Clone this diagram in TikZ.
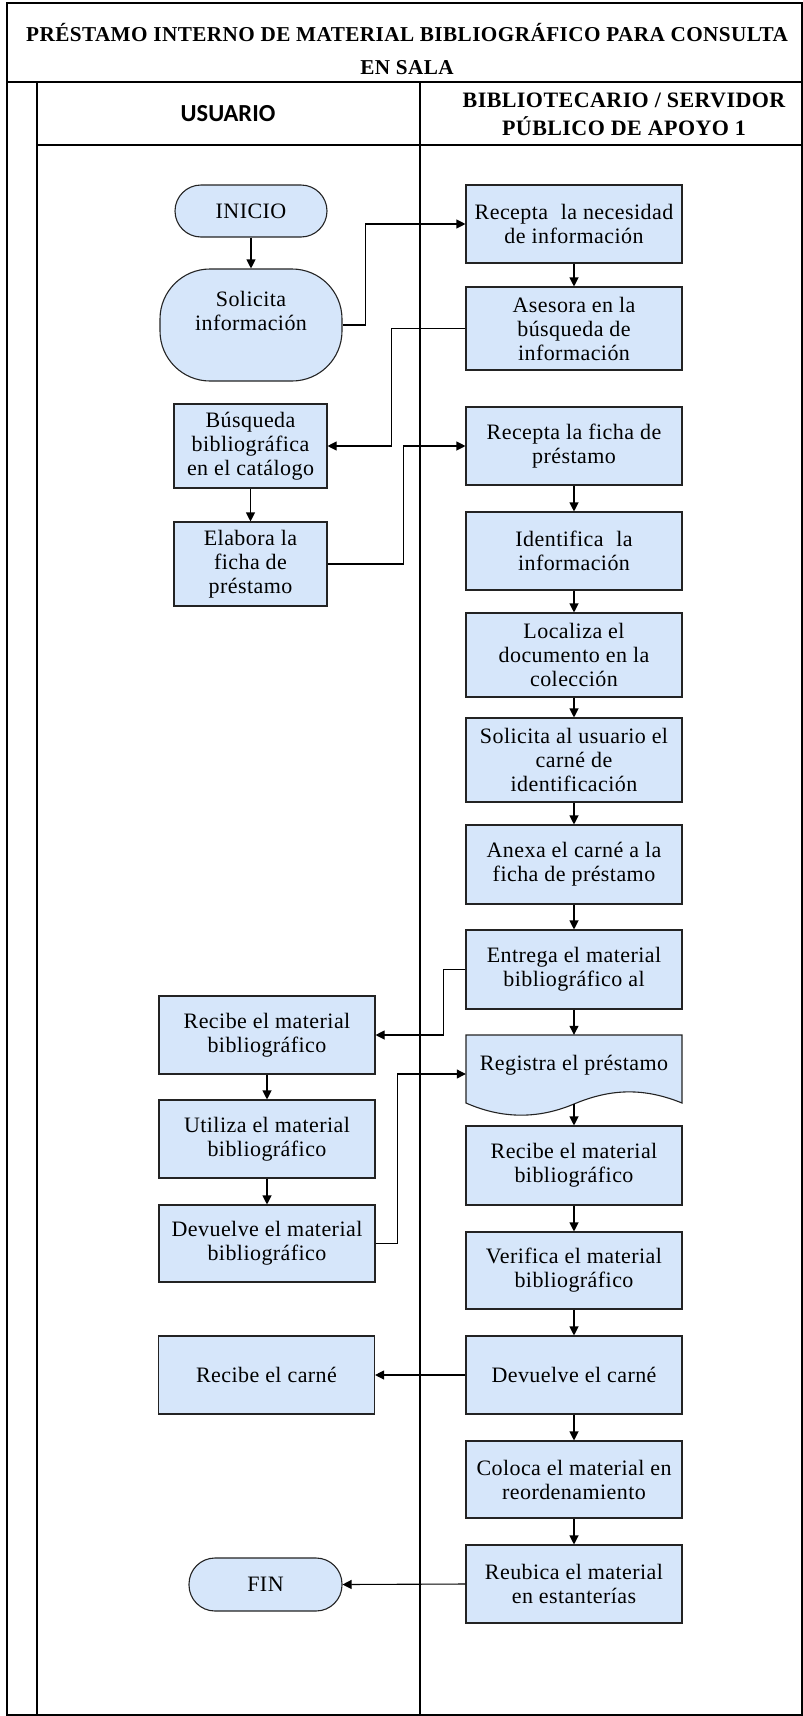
\documentclass[tikz,border=0pt]{standalone}
\usepackage{fontspec}
\setmainfont{Liberation Serif}[LetterSpace=2]
\newfontfamily\hdsans{Carlito}
\usetikzlibrary{arrows.meta,calc}
\definecolor{boxfill}{RGB}{214,230,250}
\definecolor{boxline}{RGB}{35,35,35}

\begin{document}
\begin{tikzpicture}[x=1pt,y=-1pt,
  frame/.style={line width=1.8pt},
  boxtext/.style={font=\fontsize{22}{24}\selectfont},
  proc/.style={draw=boxline,fill=boxfill,line width=1.1pt,minimum width=216pt,
    minimum height=78pt,inner sep=0pt,align=center,boxtext},
  narrow/.style={proc,minimum width=153pt,minimum height=84pt},
  term/.style={proc,rounded corners=26pt,minimum width=152pt,minimum height=52pt},
  arr/.style={line width=1.1pt,-{Triangle[length=9pt,width=9pt]}}]

\useasboundingbox (0,0) rectangle (803,1716);

% table frame and swimlanes
\draw[frame] (7,3) rectangle (802,1715);
\draw[frame] (7,82) -- (802,82);
\draw[frame] (37,82) -- (37,1715);
\draw[frame] (37,145) -- (802,145);
\draw[frame] (420,82) -- (420,1715);

\node[font=\bfseries\fontsize{21.2}{33}\selectfont,align=center] (title) at (407,49)
  {PRÉSTAMO INTERNO DE MATERIAL BIBLIOGRÁFICO PARA CONSULTA\\EN SALA};
\node[font=\hdsans\bfseries\fontsize{24.5}{28}\selectfont] (laneA) at (228,114) {USUARIO};
\node[font=\bfseries\fontsize{22}{28}\selectfont,align=center] (laneB) at (624,114)
  {BIBLIOTECARIO / SERVIDOR\\PÚBLICO DE APOYO 1};

% user lane
\node[term] (inicio) at (251,211) {INICIO};
\node[proc,rounded corners=50pt,minimum width=182pt,minimum height=112pt] (solicita) at (251,325) {};
\node[boxtext,align=center] (solicitaText) at (251,311) {Solicita\\información};
\node[narrow] (busq) at (250.5,446) {Búsqueda\\bibliográfica\\en el catálogo};
\node[narrow] (elabora) at (250.5,564) {Elabora la\\ficha de\\préstamo};
\node[proc] (urecibe) at (267,1035) {Recibe el material\\bibliográfico};
\node[proc] (uutiliza) at (267,1139) {Utiliza el material\\bibliográfico};
\node[proc,minimum height=77pt] (udevuelve) at (267,1243.5) {Devuelve el material\\bibliográfico};
\node[proc] (ucarne) at (266.5,1375) {Recibe el carné};
\node[term,minimum width=153pt,minimum height=53pt] (fin) at (265.5,1584.5) {FIN};

% librarian lane
\node[proc] (r1) at (574,224) {Recepta\hspace{0.3em} la necesidad\\de información};
\node[proc,minimum height=83pt] (r2) at (574,328.5) {Asesora en la\\búsqueda de\\información};
\node[proc] (r3) at (574,446) {Recepta la ficha de\\préstamo};
\node[proc] (r4) at (574,551) {Identifica\hspace{0.3em} la\\información};
\node[proc,minimum height=84pt] (r5) at (574,655) {Localiza el\\documento en la\\colección};
\node[proc,minimum height=84pt] (r6) at (574,760) {Solicita al usuario el\\carné de\\identificación};
\node[proc,minimum height=79pt] (r7) at (574,864.5) {Anexa el carné a la\\ficha de préstamo};
\node[proc,minimum height=79pt] (r8) at (574,969.5) {Entrega el material\\bibliográfico al};
% document shape with wavy lower edge
\filldraw[draw=boxline,fill=boxfill,line width=1.1pt] (466,1035) -- (682,1035) -- (682,1103)
  .. controls (645,1088) and (612,1088) .. (574,1104)
  .. controls (536,1120) and (500,1118) .. (466,1103) -- cycle;
\node[minimum width=216pt,minimum height=78pt,inner sep=0pt] (r9) at (574,1074) {};
\node[boxtext] (r9text) at (574,1065) {Registra el préstamo};
\coordinate (r9b) at (574,1104);
\node[proc,minimum height=79pt] (r10) at (574,1165.5) {Recibe el material\\bibliográfico};
\node[proc,minimum height=77pt] (r11) at (574,1270.5) {Verifica el material\\bibliográfico};
\node[proc] (r12) at (574,1375) {Devuelve el carné};
\node[proc,minimum height=77pt] (r13) at (574,1479.5) {Coloca el material en\\reordenamiento};
\node[proc] (r14) at (574,1584) {Reubica el material\\en estanterías};

% flow within the user lane
\draw[arr] (inicio) -- (solicita);
\draw[arr] (busq) -- (elabora);
\draw[arr] (urecibe) -- (uutiliza);
\draw[arr] (uutiliza) -- (udevuelve);

% flow within the librarian lane
\draw[arr] (r1) -- (r2);
\draw[arr] (r3) -- (r4);
\draw[arr] (r4) -- (r5);
\draw[arr] (r5) -- (r6);
\draw[arr] (r6) -- (r7);
\draw[arr] (r7) -- (r8);
\draw[arr] (r8.south) -- (r9.north);
\draw[arr] (r9b) -- (r10.north);
\draw[arr] (r10) -- (r11);
\draw[arr] (r11) -- (r12);
\draw[arr] (r12) -- (r13);
\draw[arr] (r13) -- (r14);

% hand-offs between lanes
\draw[arr] (solicita.east) -- ++(23,0) |- (r1.west);
\draw[arr] (r2.west) -- ++(-74,0) |- (busq.east);
\draw[arr] (elabora.east) -- ++(76,0) |- (r3.west);
\draw[arr] (r8.west) -- ++(-22,0) |- (urecibe.east);
\draw[arr] (udevuelve.east) -- ++(22,0) |- (r9.west);
\draw[arr] (r12.west) -- (ucarne.east);
\draw[arr] (r14.west) -- (fin.east);
\end{tikzpicture}
\end{document}
